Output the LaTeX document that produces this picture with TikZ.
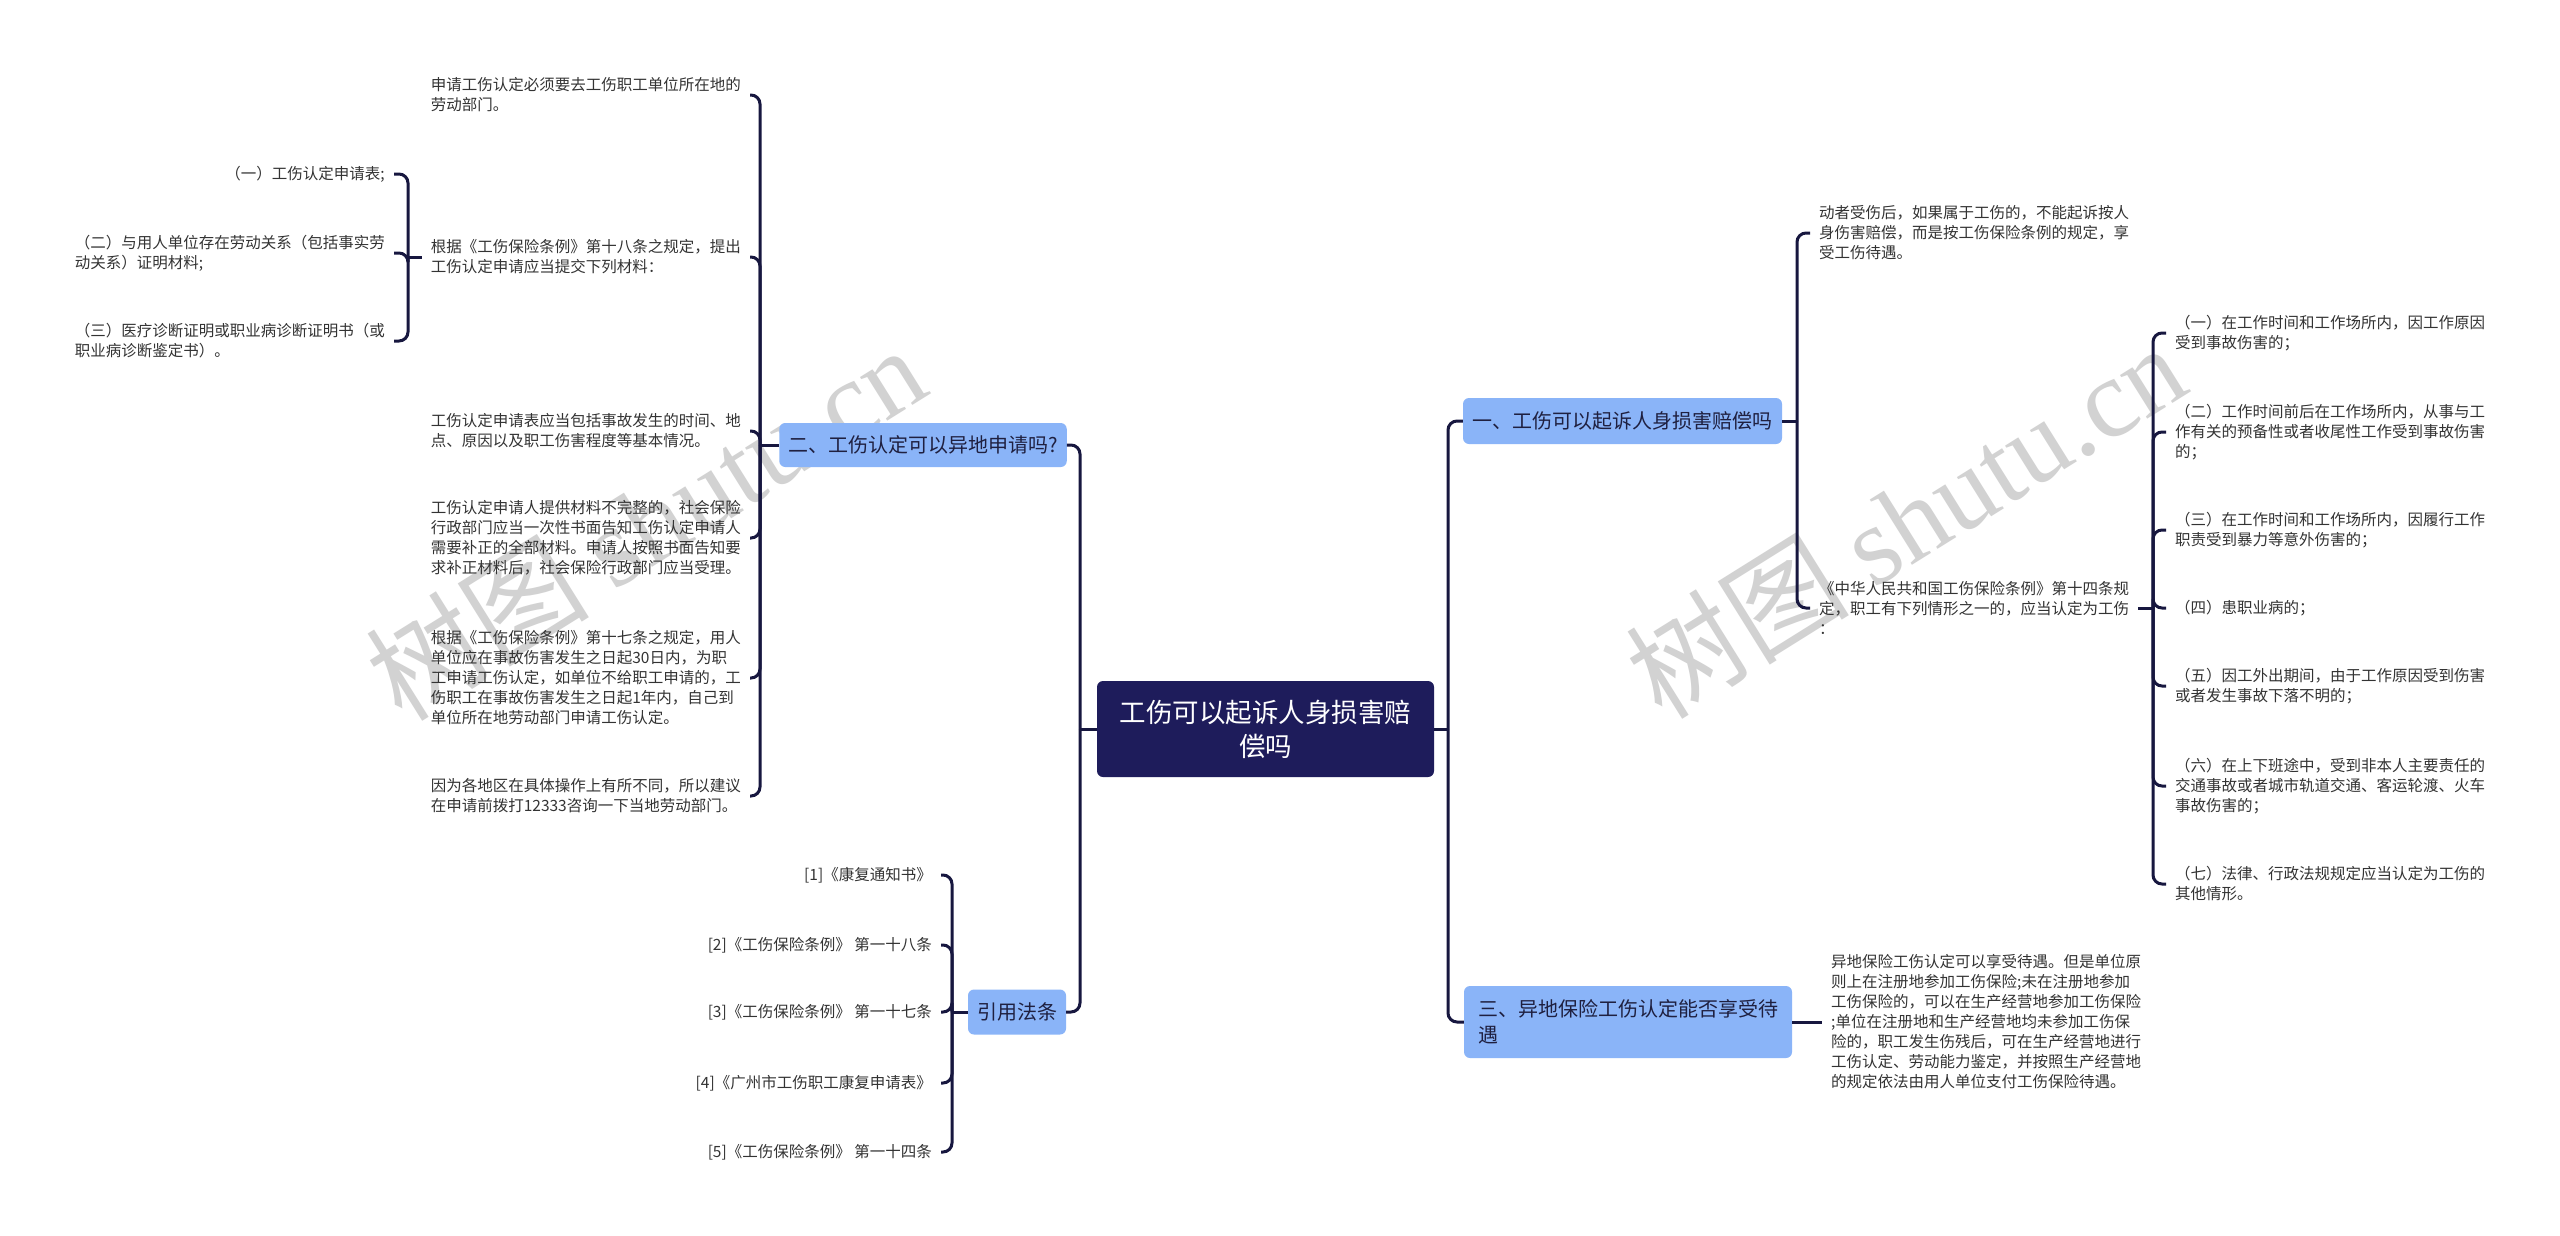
\documentclass[tikz,border=0pt]{standalone}
\usepackage{fontspec}
\setmainfont{Noto Sans CJK SC}
\newfontfamily\wmlatin{Liberation Serif}
\definecolor{navyC}{HTML}{1E1C5B}
\definecolor{lineC}{HTML}{17173F}
\definecolor{branchC}{HTML}{8AB4F8}
\definecolor{btxtC}{HTML}{1F2040}
\definecolor{txtC}{HTML}{333333}
\definecolor{wmC}{HTML}{D2D2D2}
\begin{document}
\begin{tikzpicture}[x=1pt,y=-1pt,
  conn/.style={draw=lineC, line width=3pt, rounded corners=9pt},
  leafL/.style={anchor=east, align=left, inner xsep=9pt, inner ysep=2pt, text=txtC, font=\fontsize{15.5}{20}\selectfont},
  leafR/.style={anchor=west, align=left, inner xsep=9pt, inner ysep=2pt, text=txtC, font=\fontsize{15.5}{20}\selectfont},
  branch/.style={fill=branchC, rounded corners=6pt, text=btxtC, align=left, inner xsep=9pt, inner ysep=0pt, font=\fontsize{20}{26}\selectfont},
  rootbox/.style={fill=navyC, rounded corners=6pt, text=white, align=center, font=\fontsize{26.5}{34}\selectfont},
  wm/.style={rotate=32, text=wmC, font=\fontsize{112}{112}\selectfont}
]
\fill[white] (0,0) rectangle (2560,1235);
\useasboundingbox (0,0) rectangle (2560,1235);

% watermarks
\node[wm] (wm1) at (645,522) {树图 {\wmlatin shutu.cn}};
\node[wm] (wm2) at (1905,520) {树图 {\wmlatin shutu.cn}};

% root
\node[rootbox, minimum width=337pt, minimum height=96pt] (c) at (1265.5,729) {工伤可以起诉人身损害赔\\偿吗};

% branches
\node[branch, minimum width=286pt, minimum height=44pt] (b2) at (923,445) {二、工伤认定可以异地申请吗?};
\node[branch, minimum width=98pt, minimum height=45pt] (bLaw) at (1017,1012) {引用法条};
\node[branch, minimum width=319pt, minimum height=46pt] (b1) at (1622.5,421) {一、工伤可以起诉人身损害赔偿吗};
\node[branch, minimum width=328pt, minimum height=72pt] (b3) at (1628,1022) {三、异地保险工伤认定能否享受待\\遇};

% junctions
\coordinate (jL) at (1080,729);
\coordinate (jR) at (1448,729);
\coordinate (j2) at (760,445);
\coordinate (jG) at (408,257);
\coordinate (jLaw) at (952,1012);
\coordinate (j1) at (1797,421);
\coordinate (jN) at (2153,608);

% leaves of branch 二
\node[leafL] (l21) at (750,95) {申请工伤认定必须要去工伤职工单位所在地的\\劳动部门。};
\node[leafL] (l22) at (750,257) {根据《工伤保险条例》第十八条之规定，提出\\工伤认定申请应当提交下列材料：};
\node[leafL] (l23) at (750,431) {工伤认定申请表应当包括事故发生的时间、地\\点、原因以及职工伤害程度等基本情况。};
\node[leafL] (l24) at (750,538) {工伤认定申请人提供材料不完整的，社会保险\\行政部门应当一次性书面告知工伤认定申请人\\需要补正的全部材料。申请人按照书面告知要\\求补正材料后，社会保险行政部门应当受理。};
\node[leafL] (l25) at (750,678) {根据《工伤保险条例》第十七条之规定，用人\\单位应在事故伤害发生之日起30日内，为职\\工申请工伤认定，如单位不给职工申请的，工\\伤职工在事故伤害发生之日起1年内，自己到\\单位所在地劳动部门申请工伤认定。};
\node[leafL] (l26) at (750,796) {因为各地区在具体操作上有所不同，所以建议\\在申请前拨打12333咨询一下当地劳动部门。};

% grandchildren
\node[leafL] (g1) at (394,174) {（一）工伤认定申请表;};
\node[leafL] (g2) at (394,253) {（二）与用人单位存在劳动关系（包括事实劳\\动关系）证明材料;};
\node[leafL] (g3) at (394,341) {（三）医疗诊断证明或职业病诊断证明书（或\\职业病诊断鉴定书）。};

% law references
\node[leafL] (r1) at (941,875) {[1]《康复通知书》};
\node[leafL] (r2) at (941,945) {[2]《工伤保险条例》 第一十八条};
\node[leafL] (r3) at (941,1012) {[3]《工伤保险条例》 第一十七条};
\node[leafL] (r4) at (941,1083) {[4]《广州市工伤职工康复申请表》};
\node[leafL] (r5) at (941,1152) {[5]《工伤保险条例》 第一十四条};

% leaves of branch 一
\node[leafR] (a1) at (1810,233) {动者受伤后，如果属于工伤的，不能起诉按人\\身伤害赔偿，而是按工伤保险条例的规定，享\\受工伤待遇。};
\node[leafR] (a2) at (1810,608) {《中华人民共和国工伤保险条例》第十四条规\\定，职工有下列情形之一的，应当认定为工伤\\：};

\node[leafR] (s1) at (2166,333) {（一）在工作时间和工作场所内，因工作原因\\受到事故伤害的；};
\node[leafR] (s2) at (2166,432) {（二）工作时间前后在工作场所内，从事与工\\作有关的预备性或者收尾性工作受到事故伤害\\的；};
\node[leafR] (s3) at (2166,530) {（三）在工作时间和工作场所内，因履行工作\\职责受到暴力等意外伤害的；};
\node[leafR] (s4) at (2166,608) {（四）患职业病的；};
\node[leafR] (s5) at (2166,686) {（五）因工外出期间，由于工作原因受到伤害\\或者发生事故下落不明的；};
\node[leafR] (s6) at (2166,786) {（六）在上下班途中，受到非本人主要责任的\\交通事故或者城市轨道交通、客运轮渡、火车\\事故伤害的；};
\node[leafR] (s7) at (2166,884) {（七）法律、行政法规规定应当认定为工伤的\\其他情形。};

% leaf of branch 三
\node[leafR] (t1) at (1822,1022) {异地保险工伤认定可以享受待遇。但是单位原\\则上在注册地参加工伤保险;未在注册地参加\\工伤保险的，可以在生产经营地参加工伤保险\\;单位在注册地和生产经营地均未参加工伤保\\险的，职工发生伤残后，可在生产经营地进行\\工伤认定、劳动能力鉴定，并按照生产经营地\\的规定依法由用人单位支付工伤保险待遇。};

% connectors: root
\draw[conn] (c.west) -- (jL);
\draw[conn] (jL) |- (b2.east);
\draw[conn] (jL) |- (bLaw.east);
\draw[conn] (c.east) -- (jR);
\draw[conn] (jR) |- (b1.west);
\draw[conn] (jR) |- (b3.west);

% branch 二
\draw[conn] (b2.west) -- (j2);
\foreach \n in {l21,l22,l23,l24,l25,l26} \draw[conn] (j2) |- (\n.east);
\draw[conn] (l22.west) -- (jG);
\foreach \n in {g1,g2,g3} \draw[conn] (jG) |- (\n.east);

% 引用法条
\draw[conn] (bLaw.west) -- (jLaw);
\foreach \n in {r1,r2,r3,r4,r5} \draw[conn] (jLaw) |- (\n.east);

% branch 一
\draw[conn] (b1.east) -- (j1);
\foreach \n in {a1,a2} \draw[conn] (j1) |- (\n.west);
\draw[conn] (a2.east) -- (jN);
\foreach \n in {s1,s2,s3,s4,s5,s6,s7} \draw[conn] (jN) |- (\n.west);

% branch 三
\draw[conn] (b3.east) -- (t1.west);
\end{tikzpicture}
\end{document}
